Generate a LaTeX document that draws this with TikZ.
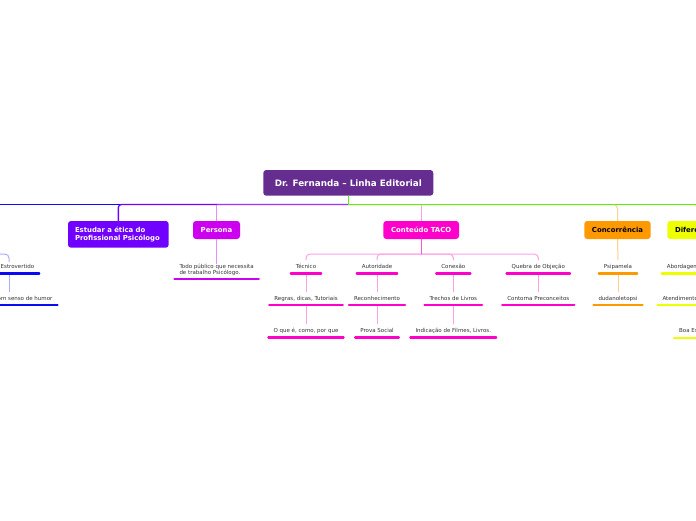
\documentclass[tikz,border=0pt]{standalone}
\usepackage{fontspec}
\setmainfont{DejaVu Sans}
\definecolor{rootc}{HTML}{662D91}
\definecolor{eticac}{HTML}{7000FF}
\definecolor{personac}{HTML}{CC00EE}
\definecolor{personamix}{HTML}{A535EE}
\definecolor{personalight}{HTML}{E68CFF}
\definecolor{tacoc}{HTML}{FF00CC}
\definecolor{tacomid}{HTML}{FF55D8}
\definecolor{tacolight}{HTML}{FFA0E6}
\definecolor{concc}{HTML}{FF9900}
\definecolor{conclight}{HTML}{FFCF8F}
\definecolor{difc}{HTML}{EEFF00}
\definecolor{bluec}{HTML}{0A0AF5}
\definecolor{bluelight}{HTML}{A9AEFF}
\definecolor{greenc}{HTML}{5AEE1E}
\definecolor{leaftxt}{HTML}{333333}
\begin{document}
\begin{tikzpicture}[x=1pt,y=-1pt,
  box/.style={rounded corners=3pt, inner sep=0pt, font=\bfseries\fontsize{6.9}{8.3}\selectfont, text=white, minimum height=18pt},
  leaf/.style={font=\fontsize{5.5}{6.3}\selectfont, text=leaftxt, inner xsep=5pt, inner ysep=3.7pt, text height=4.2pt, text depth=1.3pt, anchor=base},
  uline/.style={line width=2.1pt, line cap=round},
  conn/.style={line width=1.3pt},
  thin/.style={line width=1pt},
]
\useasboundingbox (0,0) rectangle (696,520);
\clip (0,0) rectangle (696,520);

% main nodes
\node[box, fill=rootc, minimum width=170pt, minimum height=25.7pt, font=\bfseries\fontsize{8.8}{10}\selectfont] (root) at (348.3,182.85) {Dr. Fernanda – Linha Editorial};
\node[box, fill=eticac, minimum width=100.7pt, minimum height=26.7pt, text width=86.7pt, align=left] (etica) at (118.35,234.35) {Estudar a ética do\\Profissional Psicólogo};
\node[box, fill=personac, minimum width=47pt] (persona) at (216.5,230) {Persona};
\node[box, fill=tacoc, minimum width=75.7pt] (taco) at (421.15,230) {Conteúdo TACO};
\node[box, fill=concc, text=black, minimum width=66.4pt] (conc) at (617.5,230) {Concorrência};
\node[box, fill=difc, text=black, minimum width=62pt] (dif) at (698.3,230) {Diferenciais};

% leaves
\node[leaf] (tec) at (306,268.3) {Técnico};
\node[leaf] (aut) at (377,268.3) {Autoridade};
\node[leaf] (con) at (453.3,268.3) {Conexão};
\node[leaf] (que) at (538.3,268.3) {Quebra de Objeção};
\node[leaf] (reg) at (306,300) {Regras, dicas, Tutoriais};
\node[leaf] (rec) at (377,300) {Reconhecimento};
\node[leaf] (tre) at (453.3,300) {Trechos de Livros};
\node[leaf] (cpr) at (538.3,300) {Contorna Preconceitos};
\node[leaf] (oqe) at (306,332.3) {O que é, como, por que};
\node[leaf] (pro) at (377,332.3) {Prova Social};
\node[leaf] (ind) at (453.3,332.3) {Indicação de Filmes, Livros.};
\node[leaf] (psi) at (618,268.3) {Psipamela};
\node[leaf] (duda) at (618,300) {dudanoletopsi};
\node[leaf, anchor=base west] (abo) at (661.7,268.3) {Abordagem Humanizada};
\node[leaf, anchor=base west] (ate) at (657.3,300) {Atendimento Online};
\node[leaf, anchor=base west] (boa) at (674,332.5) {Boa Escuta};
\node[leaf, anchor=base west] (estro) at (-4.5,268.3) {Estrovertido};
\node[leaf, anchor=base west] (humor) at (-11.3,300) {Bom senso de humor};
\node[font=\fontsize{5.5}{6.1}\selectfont, text=leaftxt, align=left, inner xsep=5pt, inner ysep=0pt, anchor=north west] (pch) at (174.3,263.6) {Todo público que necessita\\de trabalho Psicólogo.};

% coordinates
\coordinate (rootj) at (348.3,204.5);
\coordinate (lb) at (-10,204.5);
\coordinate (rb) at (710,204.5);
\coordinate (tacoj) at (421.15,254);
\coordinate (lbk) at (-10,254);
\coordinate (lbd) at (9,262);

% root connectors
\draw[conn, bluec] (rootj) -- (lb);
\draw[conn, eticac, rounded corners=3pt] (rootj) -| (etica.north);
\draw[thin, personalight] (persona.north |- rootj) -- (persona.north);
\draw[conn, personamix] (rootj) -- (persona.north |- rootj);
\draw[thin, tacolight] (rootj) -| (taco.north);
\draw[thin, conclight, rounded corners=4pt] (rootj) -| (conc.north);
\draw[thin, difc, rounded corners=4pt] (rootj) -| (dif.north);
\draw[conn, greenc] (root.south) -- (rootj) -- (rb);

% TACO subtree
\foreach \c in {tec,aut,con,que} \draw[thin, tacolight, rounded corners=4pt] (tacoj) -| (\c.north);
\draw[thin, tacomid] (taco.south) -- (tacoj);
\draw[thin, tacolight] (tec.south) -- (reg.north);
\draw[thin, tacolight] (reg.south) -- (oqe.north);
\draw[thin, tacolight] (aut.south) -- (rec.north);
\draw[thin, tacolight] (rec.south) -- (pro.north);
\draw[thin, tacolight] (con.south) -- (tre.north);
\draw[thin, tacolight] (tre.south) -- (ind.north);
\draw[thin, tacolight] (que.south) -- (cpr.north);

% persona subtree
\draw[thin, personalight] (persona.south) -- (persona.south |- pch.north);

% concorrencia subtree
\draw[thin, conclight] (conc.south) -- (psi.north);
\draw[thin, conclight] (psi.south) -- (duda.north);

% left branch
\draw[thin, bluelight, rounded corners=4pt] (lbk) -| (lbd);
\draw[thin, bluelight] (estro.south -| lbd) -- (humor.north -| lbd);

% underlines
\foreach \n in {tec,aut,con,que,reg,rec,tre,cpr,oqe,pro,ind}
  \draw[uline, tacoc] (\n.south west) -- (\n.south east);
\foreach \n in {psi,duda}
  \draw[uline, concc] (\n.south west) -- (\n.south east);
\foreach \n in {abo,ate,boa}
  \draw[uline, difc] (\n.south west) -- (\n.south east);
\foreach \n in {estro,humor}
  \draw[uline, bluec] (\n.south west) -- (\n.south east);
\draw[uline, personac] ([yshift=-3.4pt]pch.south west) -- ([yshift=-3.4pt]pch.south east);
\end{tikzpicture}
\end{document}
